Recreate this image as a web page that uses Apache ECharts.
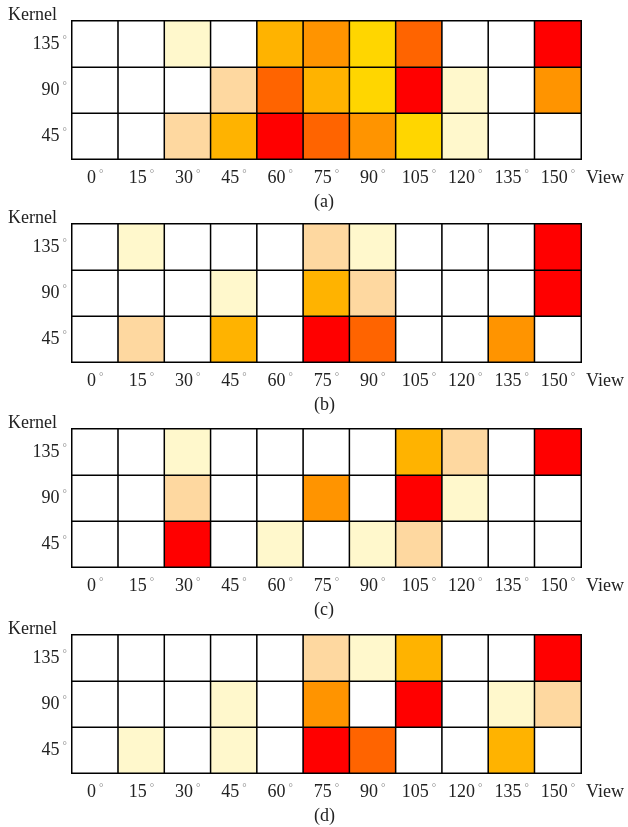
<!DOCTYPE html>
<html>
<head>
<meta charset="utf-8">
<script src="https://cdn.jsdelivr.net/npm/echarts@6/dist/echarts.min.js"></script>
<style>html,body{margin:0;padding:0;background:#fff}#c{width:628px;height:827px}</style>
</head>
<body>
<div id="c"></div>
<script>
// View angles (x) and kernel angles (y, bottom to top)
const views = ['0', '15', '30', '45', '60', '75', '90', '105', '120', '135', '150'];
const kernels = ['45', '90', '135'];
const panelLabels = ['(a)', '(b)', '(c)', '(d)'];
// Levels: 0 white, 1 light yellow, 2 peach, 3 yellow, 4 amber, 5 orange, 6 dark orange, 7 red
// Each panel: rows for kernel 45, 90, 135; values across views 0..150
const panelA = [
  [0, 0, 2, 4, 7, 6, 5, 3, 1, 0, 0],
  [0, 0, 0, 2, 6, 4, 3, 7, 1, 0, 5],
  [0, 0, 1, 0, 4, 5, 3, 6, 0, 0, 7]
];
const panelB = [
  [0, 2, 0, 4, 0, 7, 6, 0, 0, 5, 0],
  [0, 0, 0, 1, 0, 4, 2, 0, 0, 0, 7],
  [0, 1, 0, 0, 0, 2, 1, 0, 0, 0, 7]
];
const panelC = [
  [0, 0, 7, 0, 1, 0, 1, 2, 0, 0, 0],
  [0, 0, 2, 0, 0, 5, 0, 7, 1, 0, 0],
  [0, 0, 1, 0, 0, 0, 0, 4, 2, 0, 7]
];
const panelD = [
  [0, 1, 0, 1, 0, 7, 6, 0, 0, 4, 0],
  [0, 0, 0, 1, 0, 5, 0, 7, 0, 1, 2],
  [0, 0, 0, 0, 0, 2, 1, 4, 0, 0, 7]
];
const levelColors = ['#ffffff', '#fff8cc', '#fed8a0', '#ffd600', '#ffb300', '#ff9400', '#ff6400', '#ff0000'];

const panels = [panelA, panelB, panelC, panelD];
const tops = [21, 224, 429, 635];
const gridH = 138, gridL = 72, gridR = 47;
const fontFam = '"Liberation Serif", "DejaVu Serif", serif';
const degRich = {
  n: {fontFamily: fontFam, fontSize: 18, color: '#222'},
  d: {fontFamily: fontFam, fontSize: 11, color: '#888', verticalAlign: 'top', padding: [0, 0, 8, 3]}
};
const fmt = v => '{n|' + v + '}{d|°}';

const grid = [], xAxis = [], yAxis = [], series = [], graphic = [];
panels.forEach((p, i) => {
  grid.push({left: gridL, right: gridR, top: tops[i], height: gridH});
  xAxis.push({
    type: 'category', gridIndex: i, data: views,
    axisLine: {show: true, lineStyle: {color: '#000', width: 1.5}},
    axisTick: {show: false}, splitArea: {show: false},
    axisLabel: {interval: 0, margin: 10, formatter: fmt, rich: degRich}
  });
  yAxis.push({
    type: 'category', gridIndex: i, data: kernels,
    axisLine: {show: false}, axisTick: {show: false}, splitArea: {show: false},
    axisLabel: {interval: 0, margin: 5, formatter: fmt, rich: degRich}
  });
  const data = [];
  p.forEach((row, r) => row.forEach((v, c) => data.push([c, r, v])));
  series.push({
    type: 'heatmap', xAxisIndex: i, yAxisIndex: i, data: data,
    itemStyle: {borderColor: '#000', borderWidth: 1.5},
    emphasis: {disabled: true}, label: {show: false}
  });
  graphic.push({type: 'text', left: 8, top: tops[i] - 15, style: {text: 'Kernel', font: '18px ' + fontFam, fill: '#222'}});
  graphic.push({type: 'text', left: 586, top: tops[i] + gridH + 10, style: {text: 'View', font: '18px ' + fontFam, fill: '#222'}});
  graphic.push({type: 'text', left: 314, top: tops[i] + gridH + 34, style: {text: panelLabels[i], font: '18px ' + fontFam, fill: '#222'}});
});

const chart = echarts.init(document.getElementById('c'), null, {renderer: 'canvas'});
chart.setOption({
  animation: false,
  backgroundColor: '#fff',
  grid, xAxis, yAxis, series, graphic,
  visualMap: {
    type: 'piecewise', show: false, dimension: 2,
    seriesIndex: [0, 1, 2, 3],
    pieces: levelColors.map((c, k) => ({value: k, color: c}))
  }
});
</script>
</body>
</html>
